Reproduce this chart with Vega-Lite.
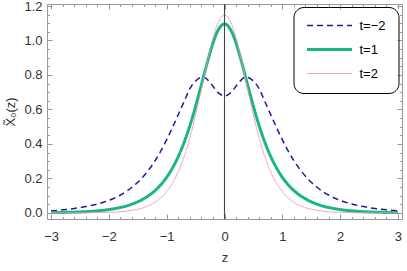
{
  "$schema": "https://vega.github.io/schema/vega-lite/v6.json",
  "width": 355,
  "height": 215,
  "autosize": {"type": "none"},
  "padding": {"left": 47, "top": 4, "right": 5, "bottom": 52},
  "config": {
    "view": {"stroke": null},
    "font": "Liberation Sans",
    "axis": {
      "grid": false,
      "domainColor": "#999999",
      "tickColor": "#999999",
      "labelColor": "#333333",
      "labelFontSize": 13,
      "titleFontSize": 13,
      "titleFontWeight": "normal",
      "titleColor": "#333333",
      "labelFont": "Liberation Sans",
      "titleFont": "Liberation Sans",
      "labelFlush": false,
      "labelOverlap": false
    },
    "legend": {
      "orient": "none",
      "strokeColor": "#000000",
      "cornerRadius": 10,
      "padding": 12,
      "symbolType": "M-1,0H8",
      "symbolSize": 100,
      "labelFontSize": 13,
      "labelColor": "#000000",
      "labelFont": "Liberation Sans",
      "rowPadding": 10,
      "labelOffset": 41
    }
  },
  "data": {
    "values": [
      {"z": -3, "v": 0.012, "t": "t=−2"}, {"z": -2.8, "v": 0.018, "t": "t=−2"}, {"z": -2.6, "v": 0.026, "t": "t=−2"}, {"z": -2.4, "v": 0.037, "t": "t=−2"}, {"z": -2.2, "v": 0.052, "t": "t=−2"}, {"z": -2.0, "v": 0.073, "t": "t=−2"}, {"z": -1.9, "v": 0.087, "t": "t=−2"}, {"z": -1.8, "v": 0.104, "t": "t=−2"}, {"z": -1.7, "v": 0.124, "t": "t=−2"}, {"z": -1.6, "v": 0.149, "t": "t=−2"}, {"z": -1.5, "v": 0.178, "t": "t=−2"}, {"z": -1.4, "v": 0.213, "t": "t=−2"}, {"z": -1.3, "v": 0.255, "t": "t=−2"}, {"z": -1.2, "v": 0.303, "t": "t=−2"}, {"z": -1.1, "v": 0.36, "t": "t=−2"}, {"z": -1.0, "v": 0.425, "t": "t=−2"}, {"z": -0.9, "v": 0.495, "t": "t=−2"}, {"z": -0.8, "v": 0.57, "t": "t=−2"}, {"z": -0.7, "v": 0.645, "t": "t=−2"}, {"z": -0.6, "v": 0.72, "t": "t=−2"}, {"z": -0.5, "v": 0.765, "t": "t=−2"}, {"z": -0.4, "v": 0.786, "t": "t=−2"}, {"z": -0.35, "v": 0.786, "t": "t=−2"}, {"z": -0.3, "v": 0.775, "t": "t=−2"}, {"z": -0.2, "v": 0.735, "t": "t=−2"}, {"z": -0.1, "v": 0.695, "t": "t=−2"}, {"z": 0, "v": 0.678, "t": "t=−2"}, {"z": 0.1, "v": 0.695, "t": "t=−2"}, {"z": 0.2, "v": 0.735, "t": "t=−2"}, {"z": 0.3, "v": 0.775, "t": "t=−2"}, {"z": 0.35, "v": 0.786, "t": "t=−2"}, {"z": 0.4, "v": 0.786, "t": "t=−2"}, {"z": 0.5, "v": 0.765, "t": "t=−2"}, {"z": 0.6, "v": 0.72, "t": "t=−2"}, {"z": 0.7, "v": 0.645, "t": "t=−2"}, {"z": 0.8, "v": 0.57, "t": "t=−2"}, {"z": 0.9, "v": 0.495, "t": "t=−2"}, {"z": 1.0, "v": 0.425, "t": "t=−2"}, {"z": 1.1, "v": 0.36, "t": "t=−2"}, {"z": 1.2, "v": 0.303, "t": "t=−2"}, {"z": 1.3, "v": 0.255, "t": "t=−2"}, {"z": 1.4, "v": 0.213, "t": "t=−2"}, {"z": 1.5, "v": 0.178, "t": "t=−2"}, {"z": 1.6, "v": 0.149, "t": "t=−2"}, {"z": 1.7, "v": 0.124, "t": "t=−2"}, {"z": 1.8, "v": 0.104, "t": "t=−2"}, {"z": 1.9, "v": 0.087, "t": "t=−2"}, {"z": 2.0, "v": 0.073, "t": "t=−2"}, {"z": 2.2, "v": 0.052, "t": "t=−2"}, {"z": 2.4, "v": 0.037, "t": "t=−2"}, {"z": 2.6, "v": 0.026, "t": "t=−2"}, {"z": 2.8, "v": 0.018, "t": "t=−2"}, {"z": 3, "v": 0.012, "t": "t=−2"},

      {"z": -3, "v": 0.0019, "t": "t=1"}, {"z": -2.75, "v": 0.0034, "t": "t=1"}, {"z": -2.5, "v": 0.006, "t": "t=1"}, {"z": -2.25, "v": 0.011, "t": "t=1"}, {"z": -2.0, "v": 0.020, "t": "t=1"}, {"z": -1.8, "v": 0.032, "t": "t=1"}, {"z": -1.6, "v": 0.051, "t": "t=1"}, {"z": -1.4, "v": 0.082, "t": "t=1"}, {"z": -1.2, "v": 0.130, "t": "t=1"}, {"z": -1.0, "v": 0.207, "t": "t=1"}, {"z": -0.9, "v": 0.261, "t": "t=1"}, {"z": -0.8, "v": 0.327, "t": "t=1"}, {"z": -0.7, "v": 0.408, "t": "t=1"}, {"z": -0.6, "v": 0.505, "t": "t=1"}, {"z": -0.5, "v": 0.618, "t": "t=1"}, {"z": -0.4, "v": 0.743, "t": "t=1"}, {"z": -0.3, "v": 0.870, "t": "t=1"}, {"z": -0.2, "v": 0.985, "t": "t=1"}, {"z": -0.1, "v": 1.066, "t": "t=1"}, {"z": 0, "v": 1.096, "t": "t=1"}, {"z": 0.1, "v": 1.066, "t": "t=1"}, {"z": 0.2, "v": 0.985, "t": "t=1"}, {"z": 0.3, "v": 0.870, "t": "t=1"}, {"z": 0.4, "v": 0.743, "t": "t=1"}, {"z": 0.5, "v": 0.618, "t": "t=1"}, {"z": 0.6, "v": 0.505, "t": "t=1"}, {"z": 0.7, "v": 0.408, "t": "t=1"}, {"z": 0.8, "v": 0.327, "t": "t=1"}, {"z": 0.9, "v": 0.261, "t": "t=1"}, {"z": 1.0, "v": 0.207, "t": "t=1"}, {"z": 1.2, "v": 0.130, "t": "t=1"}, {"z": 1.4, "v": 0.082, "t": "t=1"}, {"z": 1.6, "v": 0.051, "t": "t=1"}, {"z": 1.8, "v": 0.032, "t": "t=1"}, {"z": 2.0, "v": 0.020, "t": "t=1"}, {"z": 2.25, "v": 0.011, "t": "t=1"}, {"z": 2.5, "v": 0.006, "t": "t=1"}, {"z": 2.75, "v": 0.0034, "t": "t=1"}, {"z": 3, "v": 0.0019, "t": "t=1"},

      {"z": -3, "v": 0.0001, "t": "t=2"}, {"z": -2.75, "v": 0.0003, "t": "t=2"}, {"z": -2.5, "v": 0.0006, "t": "t=2"}, {"z": -2.25, "v": 0.0015, "t": "t=2"}, {"z": -2.0, "v": 0.0037, "t": "t=2"}, {"z": -1.8, "v": 0.0075, "t": "t=2"}, {"z": -1.6, "v": 0.0153, "t": "t=2"}, {"z": -1.4, "v": 0.031, "t": "t=2"}, {"z": -1.2, "v": 0.062, "t": "t=2"}, {"z": -1.0, "v": 0.123, "t": "t=2"}, {"z": -0.9, "v": 0.172, "t": "t=2"}, {"z": -0.8, "v": 0.238, "t": "t=2"}, {"z": -0.7, "v": 0.324, "t": "t=2"}, {"z": -0.6, "v": 0.434, "t": "t=2"}, {"z": -0.5, "v": 0.567, "t": "t=2"}, {"z": -0.4, "v": 0.718, "t": "t=2"}, {"z": -0.3, "v": 0.874, "t": "t=2"}, {"z": -0.2, "v": 1.014, "t": "t=2"}, {"z": -0.1, "v": 1.112, "t": "t=2"}, {"z": 0, "v": 1.148, "t": "t=2"}, {"z": 0.1, "v": 1.112, "t": "t=2"}, {"z": 0.2, "v": 1.014, "t": "t=2"}, {"z": 0.3, "v": 0.874, "t": "t=2"}, {"z": 0.4, "v": 0.718, "t": "t=2"}, {"z": 0.5, "v": 0.567, "t": "t=2"}, {"z": 0.6, "v": 0.434, "t": "t=2"}, {"z": 0.7, "v": 0.324, "t": "t=2"}, {"z": 0.8, "v": 0.238, "t": "t=2"}, {"z": 0.9, "v": 0.172, "t": "t=2"}, {"z": 1.0, "v": 0.123, "t": "t=2"}, {"z": 1.2, "v": 0.062, "t": "t=2"}, {"z": 1.4, "v": 0.031, "t": "t=2"}, {"z": 1.6, "v": 0.0153, "t": "t=2"}, {"z": 1.8, "v": 0.0075, "t": "t=2"}, {"z": 2.0, "v": 0.0037, "t": "t=2"}, {"z": 2.25, "v": 0.0015, "t": "t=2"}, {"z": 2.5, "v": 0.0006, "t": "t=2"}, {"z": 2.75, "v": 0.0003, "t": "t=2"}, {"z": 3, "v": 0.0001, "t": "t=2"}
    ]
  },
  "layer": [
    {
      "mark": {"type": "line", "interpolate": "monotone"},
      "encoding": {
        "x": {
          "field": "z", "type": "quantitative",
          "scale": {"domain": [-3.07, 3.07], "nice": false, "zero": false},
          "axis": {"orient": "bottom", "values": [-3, -2, -1, 0, 1, 2, 3], "tickSize": -5, "labelPadding": 16, "title": "z", "titlePadding": 8}
        },
        "y": {
          "field": "v", "type": "quantitative",
          "scale": {"domain": [-0.035, 1.2116], "nice": false, "zero": false},
          "axis": {"orient": "left", "values": [0, 0.2, 0.4, 0.6, 0.8, 1.0, 1.2], "format": ".1f", "tickSize": -5, "labelPadding": 10, "title": "X̃₀(z)", "titlePadding": 6}
        },
        "color": {
          "field": "t", "type": "nominal",
          "scale": {"domain": ["t=−2", "t=1", "t=2"], "range": ["#1c1ca0", "#19b585", "#f59a9a"]},
          "legend": {"title": null, "legendX": 246.5, "legendY": 3, "labelExpr": "datum.label + '\u00a0'"}
        },
        "strokeDash": {
          "field": "t", "type": "nominal",
          "scale": {"domain": ["t=−2", "t=1", "t=2"], "range": [[6, 4], [1, 0], [1, 0]]},
          "legend": {"title": null, "legendX": 246.5, "legendY": 3, "labelExpr": "datum.label + '\u00a0'"}
        },
        "strokeWidth": {
          "field": "t", "type": "nominal",
          "scale": {"type": "ordinal", "domain": ["t=−2", "t=1", "t=2"], "range": [1.5, 3, 0.9]},
          "legend": {"title": null, "legendX": 246.5, "legendY": 3, "labelExpr": "datum.label + '\u00a0'"}
        }
      }
    },
    {
      "data": {"values": [{"z": 0, "v": 0}]},
      "mark": {"type": "point", "opacity": 0},
      "encoding": {
        "x": {"field": "z", "type": "quantitative", "axis": {"orient": "bottom", "values": [-2.8, -2.6, -2.4, -2.2, -1.8, -1.6, -1.4, -1.2, -0.8, -0.6, -0.4, -0.2, 0.2, 0.4, 0.6, 0.8, 1.2, 1.4, 1.6, 1.8, 2.2, 2.4, 2.6, 2.8], "tickSize": -2.5, "labels": false, "domain": false, "title": null}},
        "y": {"field": "v", "type": "quantitative", "axis": {"orient": "left", "values": [0.05, 0.1, 0.15, 0.25, 0.3, 0.35, 0.45, 0.5, 0.55, 0.65, 0.7, 0.75, 0.85, 0.9, 0.95, 1.05, 1.1, 1.15], "tickSize": -2.5, "labels": false, "domain": false, "title": null}}
      }
    },
    {
      "data": {"values": [{"z": 0, "v": 0}]},
      "mark": {"type": "point", "opacity": 0},
      "encoding": {
        "x": {"field": "z", "type": "quantitative", "axis": {"orient": "top", "values": [-3, -2, -1, 0, 1, 2, 3], "tickSize": -5, "labels": false, "title": null}},
        "y": {"field": "v", "type": "quantitative", "axis": {"orient": "right", "values": [0, 0.2, 0.4, 0.6, 0.8, 1.0, 1.2], "tickSize": -5, "labels": false, "title": null}}
      }
    },
    {
      "data": {"values": [{"z": 0, "v": 0}]},
      "mark": {"type": "point", "opacity": 0},
      "encoding": {
        "x": {"field": "z", "type": "quantitative", "axis": {"orient": "top", "values": [-2.8, -2.6, -2.4, -2.2, -1.8, -1.6, -1.4, -1.2, -0.8, -0.6, -0.4, -0.2, 0.2, 0.4, 0.6, 0.8, 1.2, 1.4, 1.6, 1.8, 2.2, 2.4, 2.6, 2.8], "tickSize": -2.5, "labels": false, "domain": false, "title": null}},
        "y": {"field": "v", "type": "quantitative", "axis": {"orient": "right", "values": [0.05, 0.1, 0.15, 0.25, 0.3, 0.35, 0.45, 0.5, 0.55, 0.65, 0.7, 0.75, 0.85, 0.9, 0.95, 1.05, 1.1, 1.15], "tickSize": -2.5, "labels": false, "domain": false, "title": null}}
      }
    },
    {
      "data": {"values": [{"z": 0}]},
      "mark": {"type": "rule", "color": "#444444", "strokeWidth": 1.1},
      "encoding": {"x": {"field": "z", "type": "quantitative", "axis": null}}
    }
  ],
  "resolve": {"axis": {"x": "independent", "y": "independent"}}
}
